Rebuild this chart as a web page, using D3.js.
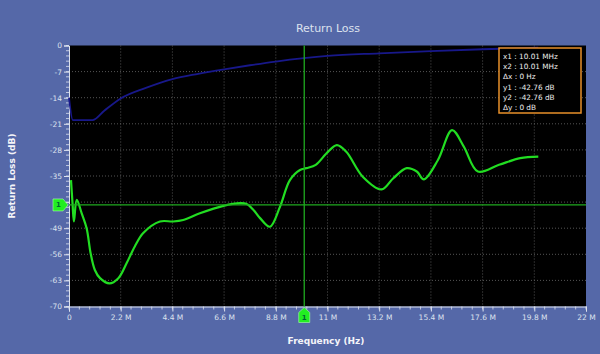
<!DOCTYPE html>
<html>
<head>
<meta charset="utf-8">
<script src="https://cdn.jsdelivr.net/npm/d3@7"></script>
<style>
  body { margin: 0; background: #5568a8; }
  text { font-family: "DejaVu Sans", sans-serif; }
</style>
</head>
<body>
<svg id="chart" width="600" height="354"></svg>
<script>
// frequency in MHz, return loss in dB
const rlFreq = [0.085, 0.15, 0.21, 0.33, 0.54, 0.75, 0.92, 1.1, 1.32, 1.72, 2.1, 2.45, 2.8, 3.16, 3.87, 4.43, 4.86, 5.57, 6.57, 7.28, 7.56, 7.85, 8.13, 8.55, 8.98, 9.4, 9.83, 10.1, 10.5, 10.96, 11.4, 11.8, 12.5, 13.3, 13.8, 14.37, 14.8, 15.1, 15.7, 16.3, 16.8, 17.4, 18.3, 19.2, 19.97];
const rlVal  = [-36.1, -42.3, -47.2, -41.4, -45, -49, -55.7, -60.2, -62.4, -63.8, -62.4, -58.4, -53.9, -50.3, -47.2, -47.2, -46.8, -45, -43, -42.3, -42.5, -44.1, -46.3, -48.6, -43.2, -36.1, -33.4, -32.9, -32, -28.9, -26.7, -28.5, -35.2, -38.6, -35.6, -32.9, -33.8, -35.9, -30.7, -22.7, -27.1, -33.8, -32, -30.2, -29.8];

const refFreq = [0, 0.16, 1.0, 1.5, 2.2, 3.3, 4.4, 5.5, 6.6, 7.7, 8.8, 10.0, 11.0, 13.2, 15.4, 17.6, 19.97];
const refVal  = [-14, -20, -20, -17.5, -14.2, -11.3, -9, -7.6, -6.4, -5.3, -4.3, -3.4, -2.8, -2.1, -1.5, -1.0, -0.6];

const xTicks = [0, 2.2, 4.4, 6.6, 8.8, 11, 13.2, 15.4, 17.6, 19.8, 22];
const yTicks = [0, -7, -14, -21, -28, -35, -42, -49, -56, -63, -70];

const markerX = 10.01, markerY = -42.76;
const legendLines = ["x1 : 10.01 MHz", "x2 : 10.01 MHz", "\u0394x : 0 Hz", "y1 : -42.76 dB", "y2 : -42.76 dB", "\u0394y : 0 dB"];

const svg = d3.select("#chart");
const pLeft = 69, pRight = 586, pTop = 45.5, pBottom = 306.5;
const textColor = "#dde2ee";

const x = d3.scaleLinear().domain([0, 22]).range([pLeft, pRight]);
const y = d3.scaleLinear().domain([-70, 0]).range([pBottom, pTop]);

svg.append("rect").attr("x", pLeft).attr("y", pTop)
  .attr("width", pRight - pLeft).attr("height", pBottom - pTop).attr("fill", "#000");

// grid
svg.append("g").selectAll("line").data(xTicks.slice(1, -1)).enter().append("line")
  .attr("x1", d => x(d)).attr("x2", d => x(d)).attr("y1", pTop).attr("y2", pBottom)
  .attr("stroke", "#6a6a6a").attr("stroke-width", 0.8).attr("stroke-dasharray", "1,2");
svg.append("g").selectAll("line").data(yTicks.slice(1, -1)).enter().append("line")
  .attr("x1", pLeft).attr("x2", pRight).attr("y1", d => y(d)).attr("y2", d => y(d))
  .attr("stroke", "#6a6a6a").attr("stroke-width", 0.8).attr("stroke-dasharray", "1,2");

// minor ticks
const xMinor = d3.range(0, 22.001, 0.44);
const yMinor = d3.range(-70, 0.001, 1.4);
svg.append("g").selectAll("line").data(xMinor).enter().append("line")
  .attr("x1", d => x(d)).attr("x2", d => x(d)).attr("y1", pBottom).attr("y2", pBottom + 3)
  .attr("stroke", textColor).attr("stroke-width", 0.8);
svg.append("g").selectAll("line").data(yMinor).enter().append("line")
  .attr("x1", pLeft - 3).attr("x2", pLeft).attr("y1", d => y(d)).attr("y2", d => y(d))
  .attr("stroke", textColor).attr("stroke-width", 0.8);

// axes
const xAxis = svg.append("g").attr("transform", `translate(0,${pBottom})`)
  .call(d3.axisBottom(x).tickValues(xTicks).tickSize(5).tickPadding(3)
    .tickFormat(d => d === 0 ? "0" : d3.format(".1~f")(d) + " M"));
// the -42 label sits under the marker flag, so it is left blank
const yAxis = svg.append("g").attr("transform", `translate(${pLeft},0)`)
  .call(d3.axisLeft(y).tickValues(yTicks).tickSize(5).tickPadding(2)
    .tickFormat(d => d === -42 ? "" : d));
[xAxis, yAxis].forEach(a => {
  a.select(".domain").attr("stroke", textColor);
  a.selectAll(".tick line").attr("stroke", textColor);
  a.selectAll("text").attr("fill", textColor).style("font-size", "7.5px");
});

// curves
const line = d3.line().x(d => x(d[0])).y(d => y(d[1])).curve(d3.curveMonotoneX);
svg.append("path").datum(d3.zip(refFreq, refVal)).attr("d", line)
  .attr("fill", "none").attr("stroke", "#18188a").attr("stroke-width", 1.8);
svg.append("path").datum(d3.zip(rlFreq, rlVal)).attr("d", line.curve(d3.curveCatmullRom.alpha(0.5)))
  .attr("fill", "none").attr("stroke", "#22dd22").attr("stroke-width", 2.2);

// marker lines
svg.append("line").attr("x1", x(markerX)).attr("x2", x(markerX)).attr("y1", pTop).attr("y2", pBottom)
  .attr("stroke", "#1faa1f").attr("stroke-width", 1.3);
svg.append("line").attr("x1", pLeft).attr("x2", pRight).attr("y1", y(markerY)).attr("y2", y(markerY))
  .attr("stroke", "#1faa1f").attr("stroke-width", 1.3);

// marker flags
const mx = x(markerX), my = y(markerY);
svg.append("path")
  .attr("d", `M${mx - 5.5},${pBottom + 16} L${mx - 5.5},${pBottom + 6} L${mx},${pBottom + 1} L${mx + 5.5},${pBottom + 6} L${mx + 5.5},${pBottom + 16} Z`)
  .attr("fill", "#22ee22").attr("stroke", "#aaffaa").attr("stroke-width", 0.6);
svg.append("text").attr("x", mx).attr("y", pBottom + 13.5).attr("text-anchor", "middle")
  .attr("fill", "#063").style("font-size", "7px").style("font-weight", "bold").text("1");
svg.append("path")
  .attr("d", `M${pLeft - 16},${my - 6} L${pLeft - 6},${my - 6} L${pLeft - 1},${my} L${pLeft - 6},${my + 6} L${pLeft - 16},${my + 6} Z`)
  .attr("fill", "#22ee22").attr("stroke", "#aaffaa").attr("stroke-width", 0.6);
svg.append("text").attr("x", pLeft - 10.5).attr("y", my + 2.5).attr("text-anchor", "middle")
  .attr("fill", "#063").style("font-size", "7px").style("font-weight", "bold").text("1");

// legend box
svg.append("rect").attr("x", 499).attr("y", 48).attr("width", 82).attr("height", 65)
  .attr("fill", "#000").attr("stroke", "#e8902a").attr("stroke-width", 1.5);
svg.append("g").selectAll("text").data(legendLines).enter().append("text")
  .attr("x", 503).attr("y", (d, i) => 59 + i * 10.2)
  .attr("fill", "#eeeeee").style("font-size", "7.3px").text(d => d);

// titles
svg.append("text").attr("x", 328).attr("y", 32).attr("text-anchor", "middle")
  .attr("fill", textColor).style("font-size", "11px").text("Return Loss");
svg.append("text").attr("x", 326).attr("y", 344).attr("text-anchor", "middle")
  .attr("fill", "#f4f4f8").style("font-size", "9px").style("font-weight", "bold").text("Frequency (Hz)");
svg.append("text").attr("transform", "translate(15,176) rotate(-90)").attr("text-anchor", "middle")
  .attr("fill", "#f4f4f8").style("font-size", "9px").style("font-weight", "bold").text("Return Loss (dB)");
</script>
</body>
</html>
